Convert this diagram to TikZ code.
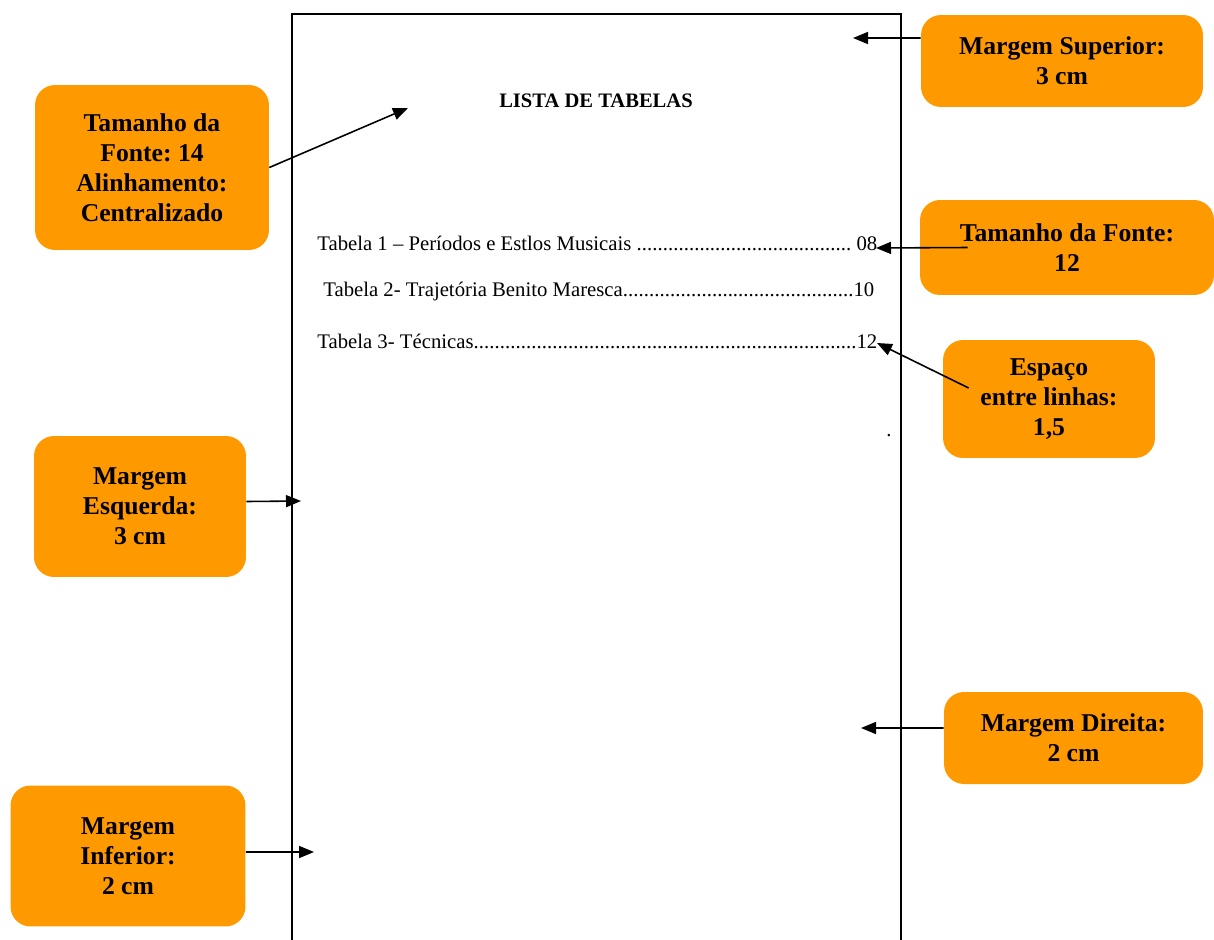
\documentclass[tikz,border=0pt]{standalone}
\usepackage{fontspec}
\setmainfont{Liberation Serif}
\usetikzlibrary{arrows.meta}
\definecolor{laranja}{RGB}{255,153,0}
\newcommand\linhatab[3]{\makebox[#1]{#2\xleaders\hbox{.}\hfill#3}}
\frenchspacing

\begin{document}
\begin{tikzpicture}[x=0.02cm, y=-0.02cm,
	caixa/.style={fill=laranja, rounded corners=0.4cm, align=center, inner sep=0pt,
		font=\bfseries\fontsize{14.6pt}{17pt}\selectfont},
	seta/.style={line width=0.9pt, -{Triangle[length=0.3cm, width=0.24cm]}},
	linha/.style={anchor=west, inner sep=0pt, font=\fontsize{11.8pt}{14pt}\selectfont},
	titulo/.style={inner sep=0pt, font=\bfseries\fontsize{11.7pt}{14pt}\selectfont}]
		%%%%% START %%%%%
		
		\useasboundingbox (0,0) rectangle (1214,940);
		
		% folha
		\draw[line width=1.2pt] (292,940) -- (292,14) -- (901,14) -- (901,940);
		
		\node[titulo] (titulo) at (596,101) {LISTA DE TABELAS};
		\node[linha] (tab1) at (317,243) {\linhatab{11.2cm}{Tabela 1 – Períodos e Estlos Musicais }{ 08}};
		\node[linha] (tab2) at (323,291) {\linhatab{11.02cm}{Tabela 2- Trajetória Benito Maresca}{10}};
		\node[linha] (tab3) at (317,341) {\linhatab{11.2cm}{Tabela 3- Técnicas}{12}};
		\node[linha] (ponto) at (886,436) {.};
		
		% caixas
		\node[caixa, minimum width=5.64cm, minimum height=1.84cm] (sup) at (1062,61) {Margem Superior:\\3 cm};
		\node[caixa, minimum width=5.88cm, minimum height=1.9cm] (f12) at (1067,247.5) {Tamanho da Fonte:\\12};
		\node[caixa, minimum width=4.68cm, minimum height=3.3cm] (f14) at (152,167.5) {Tamanho da\\Fonte: 14\\Alinhamento:\\Centralizado};
		\node[caixa, minimum width=4.24cm, minimum height=2.36cm] (esp) at (1049,399) {Espaço\\entre linhas:\\1,5};
		\node[caixa, minimum width=4.24cm, minimum height=2.82cm] (esq) at (140,506.5) {Margem\\Esquerda:\\3 cm};
		\node[caixa, minimum width=4.7cm, minimum height=2.82cm] (inf) at (128,856) {Margem\\Inferior:\\2 cm};
		\node[caixa, minimum width=5.18cm, minimum height=1.84cm] (dir) at (1073.5,738) {Margem Direita:\\2 cm};
		
		% pontas das setas
		\coordinate (pSup) at (853,38);
		\coordinate (p12) at (876,248);
		\coordinate (p14) at (408,108);
		\coordinate (pEsp) at (877,343);
		\coordinate (pEsq) at (301,501);
		\coordinate (pInf) at (314,852);
		\coordinate (pDir) at (861,728);
		
		\draw[seta] ([yshift=0.46cm]sup.west) -- (pSup);
		\draw[seta] ([xshift=0.96cm]f12.west) -- (p12);
		\draw[seta] (f14.east) -- (p14);
		\draw[seta] ([shift={(0.52cm,0.22cm)}]esp.west) -- (pEsp);
		\draw[seta] ([yshift=0.1cm]esq.east) -- (pEsq);
		\draw[seta] ([yshift=0.08cm]inf.east) -- (pInf);
		\draw[seta] ([yshift=0.2cm]dir.west) -- (pDir);
		
		%%%%% END %%%%%
\end{tikzpicture}
\end{document}
